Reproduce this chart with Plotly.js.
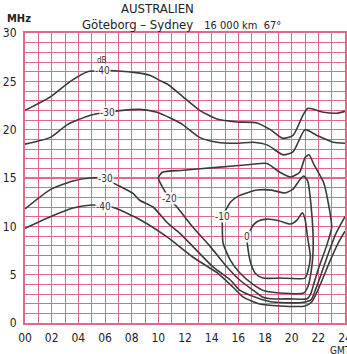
<!DOCTYPE html>
<html>
<head>
<meta charset="utf-8">
<script src="https://cdn.plot.ly/plotly-3.0.1.min.js"></script>
<style>html,body{margin:0;padding:0;background:#fff;}#chart{width:347px;height:354px;}</style>
</head>
<body>
<div id="chart"></div>
<script>
// Hour (GMT) ticks
const tickHours = [0,2,4,6,8,10,12,14,16,18,20,22,24];
const tickLabels = ['00','02','04','06','08','10','12','14','16','18','20','22','24'];

// Contour curves: hour (GMT) and frequency (MHz)
const upper40_h = [0, 1.9, 3.4, 4.7, 5.8, 6.75, 8.6, 9.4, 10.1, 10.7, 11.85, 13.1, 14.4, 15.9, 17.4, 18.4, 19.35, 20.1, 20.85, 21.2, 22.4, 23.4, 24];
const upper40_f = [22.0, 23.4, 25.0, 26.0, 26.1, 26.1, 25.85, 25.6, 25.1, 24.7, 23.4, 22.0, 21.1, 20.8, 20.7, 20.0, 19.1, 19.4, 21.5, 22.2, 21.8, 21.7, 21.9];

const upper30_h = [0, 1.9, 3.15, 4.9, 6.15, 7.3, 8.6, 9.9, 10.9, 11.85, 13.1, 14.4, 15.9, 17.1, 18.2, 19.35, 20.1, 21.0, 21.9, 23.1, 24];
const upper30_f = [18.5, 19.2, 20.5, 21.5, 21.8, 22.0, 22.1, 21.8, 21.2, 20.5, 19.2, 18.7, 18.6, 18.7, 18.4, 17.4, 17.7, 20.0, 19.4, 18.7, 18.6];

const loop20_h = [10.8, 10.5, 10.0, 10.3, 11.85, 14.4, 16.9, 18.15, 19.1, 19.9, 20.6, 21.0, 21.3, 21.7, 22.4, 22.8, 23.0, 22.6, 22.05, 21.7, 21.45, 21.15, 19.9, 18.4, 17.8, 17.1, 16.1, 15.15, 13.9, 12.6, 11.4, 10.8];
const loop20_f = [12.9, 13.6, 15.0, 15.6, 15.8, 16.1, 16.4, 16.5, 15.6, 15.1, 15.6, 17.1, 17.4, 16.3, 14.5, 12.0, 9.9, 7.9, 5.8, 4.24, 3.1, 2.5, 2.5, 2.5, 2.7, 3.4, 4.45, 5.8, 7.9, 9.9, 12.0, 12.9];

const loop10_h = [14.8, 15.15, 15.4, 16.1, 17.4, 18.5, 19.5, 20.1, 20.6, 20.9, 21.2, 21.45, 21.6, 21.6, 21.45, 21.2, 20.9, 19.1, 18.0, 17.1, 16.1, 15.4, 14.85, 14.8, 14.8];
const loop10_f = [11.0, 11.9, 12.5, 13.2, 13.75, 13.75, 13.45, 13.85, 14.8, 15.2, 14.7, 12.2, 9.3, 7.24, 5.2, 3.7, 3.1, 3.1, 3.3, 4.0, 5.2, 6.5, 8.3, 10.1, 11.0];

const loop0_h = [16.65, 16.9, 17.1, 17.5, 18.15, 19.1, 19.9, 20.4, 20.8, 21.0, 21.2, 21.4, 21.2, 21.0, 19.1, 17.85, 17.3, 16.95, 16.7, 16.65];
const loop0_f = [8.9, 9.6, 10.1, 10.55, 10.75, 10.55, 10.24, 10.65, 11.4, 10.75, 8.8, 6.8, 5.3, 4.65, 4.65, 4.65, 5.1, 6.1, 7.9, 8.9];

const lower30_h = [0, 1.9, 3.6, 4.9, 6.0, 6.6, 8.1, 8.6, 9.6, 10.65, 11.6, 12.6, 14.1, 15.4, 16.1, 17.4, 18.4, 20.6, 21.45, 21.8, 22.2, 22.75, 23.3, 24];
const lower30_f = [11.8, 13.8, 14.7, 15.0, 15.0, 14.5, 13.4, 12.7, 12.0, 10.4, 9.3, 7.9, 5.8, 4.45, 3.4, 2.6, 2.2, 2.1, 2.4, 3.5, 5.0, 7.2, 9.2, 11.0];

const lower40_h = [0, 1.9, 3.6, 5.0, 5.9, 6.75, 8.6, 10.65, 12.6, 14.4, 15.6, 16.35, 17.6, 19.1, 21.0, 21.5, 21.9, 22.35, 22.9, 23.5, 24];
const lower40_f = [9.8, 11.0, 11.9, 12.2, 12.1, 11.9, 10.7, 8.9, 6.8, 5.2, 3.7, 2.7, 1.96, 1.76, 1.76, 2.17, 3.2, 4.65, 6.5, 8.3, 9.5];

// Contour labels: text, curve, index of the point where the label sits
const labelText  = ['-40', '-30', '-30', '-40', '-20', '-10', '0'];
const labelCurve = ['upper40', 'upper30', 'lower30', 'lower40', 'loop20', 'loop10', 'loop0'];
const labelIndex = [4, 4, 4, 4, 0, 0, 0];

const curves = {
  upper40: [upper40_h, upper40_f],
  upper30: [upper30_h, upper30_f],
  loop20: [loop20_h, loop20_f],
  loop10: [loop10_h, loop10_f],
  loop0: [loop0_h, loop0_f],
  lower30: [lower30_h, lower30_f],
  lower40: [lower40_h, lower40_f]
};

const lineCol = '#3a3a3a';
const data = Object.keys(curves).map(k => ({
  x: curves[k][0], y: curves[k][1], type: 'scatter', mode: 'lines',
  line: {color: lineCol, width: 1.6, shape: 'spline', smoothing: 0.6},
  hoverinfo: 'skip', showlegend: false
}));

const font = 'DejaVu Sans Condensed, Liberation Sans Narrow, Arial, sans-serif';
const annotations = labelText.map((t, i) => {
  const c = curves[labelCurve[i]];
  return {x: c[0][labelIndex[i]], y: c[1][labelIndex[i]], xref: 'x', yref: 'y',
    text: t, showarrow: false, font: {family: font, size: 10, color: '#333'},
    bgcolor: 'rgba(255,255,255,0.9)', borderpad: 0};
});
// dB unit above the upper -40 label
annotations.push({x: upper40_h[4], y: upper40_f[4], xref: 'x', yref: 'y', yshift: 10,
  text: 'dB', showarrow: false, font: {family: font, size: 8, color: '#333'}});
annotations.push({x: 0.4125, y: 1.086, xref: 'paper', yref: 'paper', yanchor: 'middle', text: 'AUSTRALIEN',
  showarrow: false, font: {family: font, size: 13, color: '#222'}});
annotations.push({x: 0.49, y: 1.031, xref: 'paper', yref: 'paper', yanchor: 'middle',
  text: 'Göteborg – Sydney   <span style="font-size:11px">16 000 km  67°</span>',
  showarrow: false, font: {family: font, size: 13, color: '#222'}});
annotations.push({x: -0.063, y: 1.05, xref: 'paper', yref: 'paper', xanchor: 'left', yanchor: 'middle', text: '<b>MHz</b>',
  showarrow: false, font: {family: font, size: 11, color: '#222'}});
annotations.push({x: 0.947, y: -0.096, xref: 'paper', yref: 'paper', xanchor: 'left', yanchor: 'middle', text: 'GMT',
  showarrow: false, font: {family: font, size: 10, color: '#222'}});

const gridCol = '#e3688c';
const layout = {
  width: 347, height: 354,
  margin: {l: 25, r: 2, t: 33, b: 31, pad: 0},
  paper_bgcolor: '#fff', plot_bgcolor: '#fff',
  font: {family: font, size: 12, color: '#222'},
  xaxis: {range: [0, 24], tickvals: tickHours, ticktext: tickLabels, showgrid: true,
    gridcolor: gridCol, gridwidth: 1, zeroline: false, showline: true, linecolor: gridCol, linewidth: 2,
    mirror: true, ticks: '', ticklabelstandoff: 3, ticklabeloverflow: 'allow', fixedrange: true,
    tickfont: {family: font, size: 12, color: '#222'},
    minor: {dtick: 1, showgrid: true, gridcolor: gridCol, gridwidth: 1}},
  yaxis: {range: [0, 30], dtick: 5, showgrid: true, gridcolor: gridCol, gridwidth: 1.3,
    zeroline: false, showline: true, linecolor: gridCol, linewidth: 2, mirror: true, ticks: '',
    ticklabelstandoff: 4,
    fixedrange: true, tickfont: {family: font, size: 12, color: '#222'},
    minor: {dtick: 1, showgrid: true, gridcolor: gridCol, gridwidth: 1}},
  annotations: annotations,
  showlegend: false
};

Plotly.newPlot('chart', data, layout, {displayModeBar: false, staticPlot: true});
</script>
</body>
</html>
